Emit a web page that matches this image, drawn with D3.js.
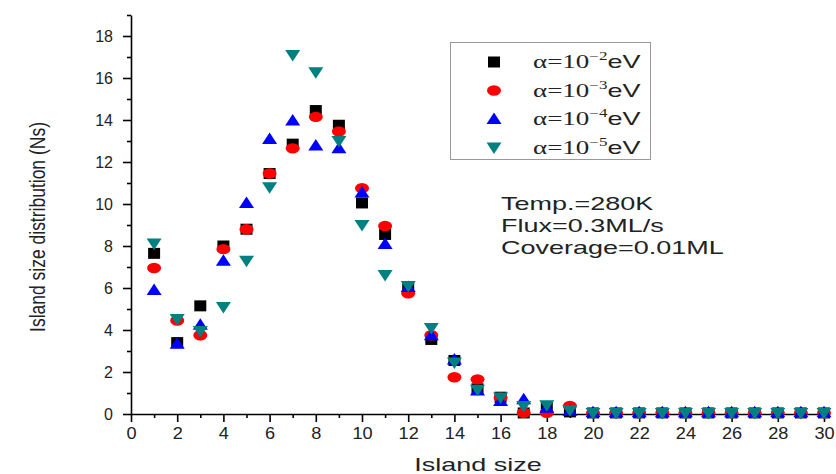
<!DOCTYPE html>
<html>
<head>
<meta charset="utf-8">
<script src="https://cdn.jsdelivr.net/npm/d3@7"></script>
<style>
  html, body { margin: 0; padding: 0; background: #fff; }
  svg { display: block; }
</style>
</head>
<body>
<svg id="chart" width="836" height="474"></svg>
<script>
// Island sizes (x) and island size distribution per diffusion barrier alpha
const sizes = d3.range(1, 31);

const alpha2 = [7.65, 3.4, 5.15, 8.0, 8.8, 11.45, 12.85, 14.45, 13.75, 10.05, 8.55, 6.05, 3.55, 2.55, 1.2, 0.8, 0.05, 0.3, 0.1,
  0.05, 0.05, 0.05, 0.05, 0.05, 0.05, 0.05, 0.05, 0.05, 0.05, 0.05];
const alpha3 = [6.95, 4.45, 3.75, 7.85, 8.8, 11.45, 12.65, 14.15, 13.45, 10.75, 8.95, 5.75, 3.75, 1.75, 1.65, 0.78, 0.06, 0.06, 0.38,
  0.05, 0.05, 0.05, 0.05, 0.05, 0.05, 0.05, 0.05, 0.05, 0.05, 0.05];
const alpha4 = [5.9, 3.35, 4.25, 7.3, 10.05, 13.1, 13.98, 12.78, 12.66, 10.55, 8.1, 6.05, 3.75, 2.6, 1.12, 0.62, 0.7, 0.3, 0.15,
  0.08, 0.08, 0.08, 0.08, 0.08, 0.08, 0.08, 0.08, 0.08, 0.08, 0.08];
const alpha5 = [8.12, 4.52, 3.95, 5.1, 7.3, 10.8, 17.1, 16.27, 13.0, 9.0, 6.62, 6.1, 4.1, 2.45, 1.15, 0.78, 0.38, 0.42, 0.18,
  0.05, 0.05, 0.05, 0.05, 0.05, 0.05, 0.05, 0.05, 0.05, 0.05, 0.05];

const seriesExponents = ["2", "3", "4", "5"];
const seriesColors = ["#000000", "#ff0000", "#0000ff", "#008080"];
const seriesShapes = ["square", "circle", "up", "down"];

const xMajorTicks = d3.range(0, 31, 2);
const xMinorTicks = d3.range(1, 30, 2);
const yMajorTicks = d3.range(0, 19, 2);
const yMinorTicks = d3.range(1, 20, 2);

const infoLines = ["Temp.=280K", "Flux=0.3ML/s", "Coverage=0.01ML"];

const series = [alpha2, alpha3, alpha4, alpha5].map((vals, i) => ({
  exp: seriesExponents[i],
  color: seriesColors[i],
  shape: seriesShapes[i],
  points: vals.map((v, j) => ({ x: sizes[j], y: v }))
}));

const svg = d3.select("#chart");
const x = d3.scaleLinear().domain([0, 30]).range([131, 824]);
const y = d3.scaleLinear().domain([0, 19]).range([414, 15]);

const sans = "Arial, 'Liberation Sans', sans-serif";
const serif = "'Liberation Serif', 'Times New Roman', serif";
const wide = 1.42; // horizontal stretch of the lettering

// Axes: major ticks with labels, minor ticks without
function styleAxis(g, fs) {
  g.selectAll("path.domain").attr("stroke", "#000").attr("stroke-width", 1.6);
  g.selectAll(".tick line").attr("stroke", "#000").attr("stroke-width", 1.6);
  g.selectAll(".tick text").attr("fill", "#222").style("font-family", sans).style("font-size", fs + "px");
}

const xAxisG = svg.append("g").attr("transform", `translate(0,${y(0)})`)
  .call(d3.axisBottom(x).tickValues(xMajorTicks).tickSize(8).tickPadding(5).tickSizeOuter(0));
styleAxis(xAxisG, 16.5);
xAxisG.selectAll(".tick text").attr("transform", "scale(1.1,1)");
const xMinorG = svg.append("g").attr("transform", `translate(0,${y(0)})`)
  .call(d3.axisBottom(x).tickValues(xMinorTicks).tickSize(4).tickFormat("").tickSizeOuter(0));
styleAxis(xMinorG, 16);
xMinorG.select("path.domain").remove();

const yAxisG = svg.append("g").attr("transform", `translate(${x(0)},0)`)
  .call(d3.axisLeft(y).tickValues(yMajorTicks).tickSize(8).tickPadding(10).tickSizeOuter(0));
styleAxis(yAxisG, 16);
const yMinorG = svg.append("g").attr("transform", `translate(${x(0)},0)`)
  .call(d3.axisLeft(y).tickValues(yMinorTicks).tickSize(4).tickFormat("").tickSizeOuter(0));
styleAxis(yMinorG, 16);
yMinorG.select("path.domain").remove();

// Axis titles
svg.append("text")
  .attr("transform", `translate(478,471) scale(${wide},1)`)
  .attr("text-anchor", "middle")
  .style("font-family", sans).style("font-size", "19px").attr("fill", "#222")
  .text("Island size");

svg.append("text")
  .attr("transform", `translate(45,227) scale(1.3,1) rotate(-90)`)
  .attr("text-anchor", "middle")
  .style("font-family", sans)
  .style("font-size", "17.5px").attr("fill", "#222")
  .text("Island size distribution (Ns)");

// Marker shapes
function ellipsePath(cx, cy, rx, ry) {
  return `M${cx - rx},${cy}a${rx},${ry} 0 1,0 ${2 * rx},0a${rx},${ry} 0 1,0 ${-2 * rx},0Z`;
}
function shapeD(shape, cx, cy) {
  const p = d3.path();
  if (shape === "circle") return ellipsePath(cx, cy, 7, 5.2);
  if (shape === "square") {
    p.rect(cx - 6, cy - 5.5, 12, 11);
  } else if (shape === "up") {
    p.moveTo(cx, cy - 6.5); p.lineTo(cx + 7.5, cy + 5); p.lineTo(cx - 7.5, cy + 5); p.closePath();
  } else {
    p.moveTo(cx, cy + 6.5); p.lineTo(cx + 7.5, cy - 5); p.lineTo(cx - 7.5, cy - 5); p.closePath();
  }
  return p.toString();
}

// Data markers, drawn in series order so the last one sits on top
series.forEach(s => {
  svg.append("g").selectAll("path")
    .data(s.points)
    .join("path")
    .attr("d", d => shapeD(s.shape, x(d.x), y(d.y)))
    .attr("fill", s.color);
});

// Legend
const legend = svg.append("g");
legend.append("rect")
  .attr("x", 450.5).attr("y", 42.5).attr("width", 200).attr("height", 117)
  .attr("fill", "#fff").attr("stroke", "#999").attr("stroke-width", 1);
series.forEach((s, i) => {
  const cy = 62 + i * 28.5;
  legend.append("path").attr("d", shapeD(s.shape, 494, cy)).attr("fill", s.color);
  const t = legend.append("text")
    .attr("transform", `translate(533,${cy + 6}) scale(${wide},1)`)
    .attr("fill", "#222");
  t.append("tspan").style("font-family", serif).style("font-size", "19px").text("α=10");
  t.append("tspan").attr("dy", -8).style("font-family", serif).style("font-size", "12px").text("−" + s.exp);
  t.append("tspan").attr("dy", 8).style("font-family", sans).style("font-size", "19px").text("eV");
});

// Simulation conditions
svg.append("g").selectAll("text")
  .data(infoLines)
  .join("text")
  .attr("transform", (d, i) => `translate(501,${210 + i * 22}) scale(${wide},1)`)
  .style("font-family", sans).style("font-size", "19px").attr("fill", "#222")
  .text(d => d);
</script>
</body>
</html>
